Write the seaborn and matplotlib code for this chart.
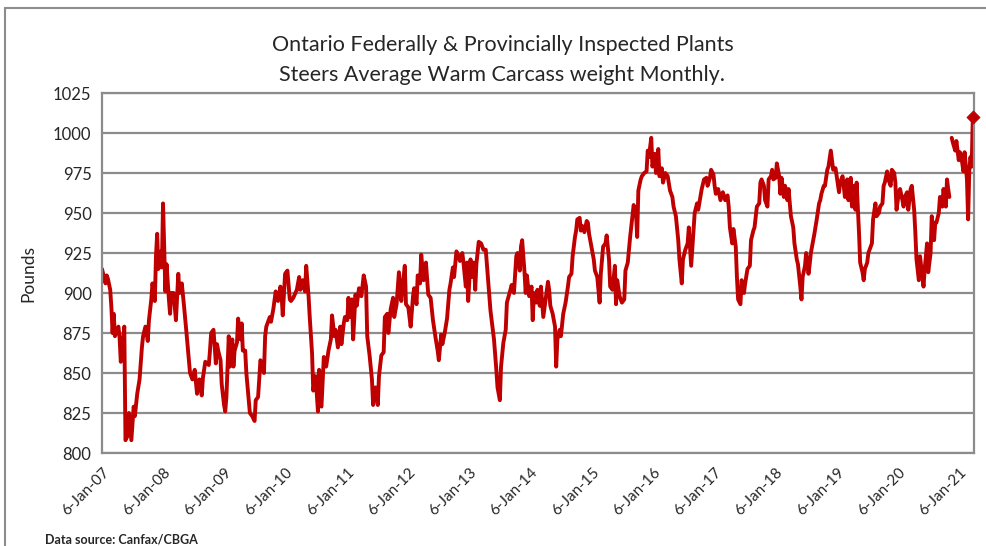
import numpy as np
import pandas as pd
import matplotlib.pyplot as plt
from matplotlib.lines import Line2D
import seaborn as sns

# weekly report, weeks counted from 6-Jan-07 (NaN = missing week)
weeks = [
    0, 3, 4, 5, 7, 8, 9, 10, 11, 14, 15, 16, 17, 19, 20, 22, 23, 25, 27, 28,
    30, 32, 34, 35, 37, 39, 40, 42, 43, 45, 46, 47, 48, 50, 51, 52, 54, 55, 57, 58,
    59, 61, 63, 65, 66, 68, 70, 72, 75, 77, 79, 81, 83, 85, 86, 88, 91, 92, 93, 95,
    97, 98, 99, 101, 102, 104, 105, 106, 108, 109, 111, 112, 113, 115, 116, 118, 119, 120, 122, 123,
    126, 128, 130, 131, 133, 135, 136, 138, 139, 140, 143, 144, 146, 148, 150, 152, 153, 154, 156, 158,
    160, 161, 163, 166, 168, 169, 171, 173, 174, 176, 177, 179, 180, 182, 184, 185, 187, 189, 191, 193,
    195, 196, 198, 199, 201, 203, 204, 206, 207, 209, 210, 211, 213, 214, 216, 217, 219, 221, 223, 225,
    226, 228, 230, 231, 233, 235, 236, 238, 240, 241, 243, 244, 246, 248, 249, 251, 253, 255, 256, 258,
    259, 261, 263, 265, 266, 268, 269, 271, 272, 274, 276, 278, 280, 282, 284, 286, 287, 289, 290, 292,
    294, 296, 297, 299, 300, 302, 304, 305, 307, 308, 310, 311, 312, 314, 315, 317, 318, 319, 321, 323,
    325, 327, 329, 331, 334, 336, 337, 339, 340, 342, 344, 345, 348, 349, 351, 353, 354, 356, 357, 358,
    360, 361, 362, 364, 366, 367, 368, 370, 371, 373, 374, 376, 378, 380, 381, 382, 384, 386, 387, 388,
    390, 391, 393, 395, 397, 398, 400, 401, 403, 404, 405, 407, 408, 409, 410, 411, 413, 414, 415, 417,
    419, 420, 422, 424, 425, 427, 429, 430, 432, 433, 435, 437, 438, 439, 441, 443, 445, 446, 448, 450,
    452, 453, 455, 456, 457, 459, 460, 462, 464, 465, 466, 468, 469, 471, 472, 474, 475, 477, 478, 480,
    482, 484, 486, 487, 489, 491, 492, 494, 495, 497, 499, 500, 502, 504, 505, 507, 508, 511, 513, 515,
    516, 518, 519, 521, 522, 523, 525, 527, 529, 531, 533, 534, 535, 537, 538, 540, 541, 542, 544, 545,
    547, 548, 550, 552, 553, 555, 556, 558, 560, 561, 562, 564, 565, 567, 568, 570, 571, 572, 574, 575,
    577, 578, 579, 581, 582, 584, 585, 587, 589, 590, 592, 593, 595, 596, 597, 599, 600, 602, 603, 604,
    606, 607, 609, 611, 612, 613, 615, 616, 618, 619, 621, 622, 623, 625, 626, 628, 629, 631, 632, 633,
    635, 636, 638, 639, 640, 642, 643, 645, 646, 648, 649, 650, 652, 653, 655, 656, 657, 659, 660, 662,
    663, 665, 666, 667, 669, 670, 672, 673, 675, 676, 677, 679, 680, 682, 683, 684, 686, 687, 689, 690,
    692, 693, 694, 696, 697, 699, 700, 701, 703, 704, 706, 707, 709, 710, 711, 713, 714, 716, 717, 719,
    720, 721, 722, 723, 724, 725, 727, 728, 730, 731, 732, 734, 735, 737, 738, 739, 740, 741, 742,
]
pounds = [
    915, 906, 911, 909, 902, 891, 875, 887, 873, 879, 872, 857, 863, 879, 808, 811, 825, 808, 829, 823,
    837, 846, 866, 873, 879, 870, 883, 896, 906, 895, 923, 937, 915, 926, 916, 956, 901, 918, 896, 887,
    900, 900, 883, 912, 900, 906, 891, 875, 850, 846, 852, 837, 846, 836, 847, 857, 855, 864, 875, 877,
    856, 868, 864, 858, 843, 830, 826, 835, 873, 854, 871, 854, 864, 869, 884, 871, 881, 864, 864, 850,
    825, 823, 820, 833, 835, 858, 856, 850, 873, 879, 885, 882, 890, 901, 895, 904, 899, 886, 912, 914,
    896, 895, 897, 902, 910, 902, 908, 901, 917, 898, 885, 862, 839, 848, 826, 852, 829, 860, 854, 864,
    871, 886, 873, 877, 866, 879, 868, 881, 885, 883, 897, 885, 896, 871, 899, 892, 903, 898, 911, 904,
    873, 861, 846, 830, 841, 830, 848, 861, 863, 885, 887, 875, 890, 897, 885, 893, 913, 895, 903, 917,
    893, 891, 879, 898, 903, 893, 911, 906, 924, 908, 919, 899, 897, 883, 873, 864, 858, 874, 868, 875,
    884, 902, 906, 916, 910, 926, 923, 920, 925, 919, 904, 919, 895, 921, 910, 919, 902, 918, 932, 931,
    927, 927, 908, 889, 871, 852, 841, 833, 854, 869, 877, 894, 902, 905, 900, 923, 925, 914, 929, 933,
    913, 900, 911, 898, 904, 883, 900, 894, 902, 892, 904, 885, 896, 907, 902, 892, 887, 879, 854, 871,
    877, 873, 887, 894, 904, 910, 912, 923, 935, 939, 946, 947, 939, 942, 941, 938, 945, 944, 937, 929,
    921, 914, 910, 894, 912, 929, 931, 936, 921, 904, 902, 917, 893, 908, 898, 894, 896, 914, 919, 935,
    948, 955, 950, 935, 964, 971, 973, 975, 976, 989, 985, 997, 979, 987, 975, 990, 973, 978, 969, 975,
    973, 964, 960, 954, 948, 933, 921, 906, 921, 927, 931, 941, 917, 939, 950, 956, 952, 965, 971, 972,
    967, 972, 977, 974, 967, 962, 965, 958, 963, 958, 961, 954, 941, 931, 940, 929, 910, 896, 893, 908,
    900, 906, 915, 917, 933, 939, 941, 954, 956, 969, 971, 967, 958, 954, 971, 973, 977, 971, 972, 981,
    973, 962, 972, 960, 967, 958, 965, 948, 941, 931, 921, 918, 904, 896, 910, 917, 925, 912, 918, 925,
    933, 937, 946, 956, 958, 962, 967, 967, 977, 979, 989, 983, 977, 978, 973, 963, 969, 973, 967, 960,
    971, 958, 972, 954, 967, 952, 969, 938, 919, 913, 908, 915, 919, 925, 929, 931, 946, 956, 948, 950,
    954, 956, 967, 969, 976, 971, 967, 977, 975, 969, 952, 963, 965, 958, 954, 960, 963, 952, 965, 967,
    952, 938, 921, 908, 923, 910, 904, 915, 931, 913, 925, 948, 933, 944, 944, 950, 960, 954, 965, 954,
    971, 965, 960, np.nan, 997, 994, 989, 995, 983, 988, 986, 976, 988, 971, 946, 977, 985, 979, 1010,
]
y_ticks = [800, 825, 850, 875, 900, 925, 950, 975, 1000, 1025]
tick_years = list(range(2007, 2022))

start = pd.Timestamp('2007-01-06')
df = pd.DataFrame({'week': weeks, 'pounds': pounds})
df['date'] = start + pd.to_timedelta(df['week'] * 7, unit='D')
# split at the missing week so the line breaks there
df['segment'] = df['pounds'].isna().cumsum()
df = df.dropna()

sns.set_style('white')
plt.rcParams['font.family'] = ['Lato', 'DejaVu Sans']

fig = plt.figure(figsize=(9.87, 5.46), dpi=100)
ax = fig.add_axes([102 / 987, 1 - 453 / 546, (974 - 102) / 987, (453 - 93) / 546])

red = '#C00000'
sns.lineplot(data=df, x='date', y='pounds', units='segment', estimator=None,
             color=red, linewidth=2.8, ax=ax, legend=False)
last = df.iloc[[-1]]
sns.scatterplot(data=last, x='date', y='pounds', marker='D', s=45, color=red,
                edgecolor=red, ax=ax, legend=False, zorder=5, clip_on=False)

ax.set_ylim(800, 1025)
ax.set_yticks(y_ticks)
ax.set_xlim(df['date'].iloc[0], df['date'].iloc[-1] + pd.Timedelta(days=7))
tick_dates = [pd.Timestamp(f'{y}-01-06') for y in tick_years]
ax.set_xticks(tick_dates)
ax.set_xticklabels([d.strftime('%-d-%b-%y') for d in tick_dates], rotation=45,
                   ha='right', rotation_mode='anchor', fontsize=11)
ax.tick_params(axis='y', labelsize=12, length=4, color='#888888', direction='out')
ax.tick_params(axis='x', length=5, color='#888888', direction='out', pad=4)
ax.yaxis.grid(True, color='#8c8c8c', linewidth=1.6)
ax.set_axisbelow(True)
for s in ax.spines.values():
    s.set_color('#8c8c8c')
    s.set_linewidth(1.6)
ax.set_xlabel('')
ax.set_ylabel('Pounds', fontsize=12.5, labelpad=12)

fig.text(0.509, 0.918, 'Ontario Federally & Provincially Inspected Plants',
         ha='center', va='center', fontsize=15.5)
fig.text(0.509, 0.862, 'Steers Average Warm Carcass weight Monthly.',
         ha='center', va='center', fontsize=15.5)
fig.text(45 / 987, 1 - 540 / 546, 'Data source: Canfax/CBGA', ha='left',
         va='center', fontsize=9, fontweight='bold')

# outer chart-area border (top and left visible)
fig.add_artist(Line2D([5 / 987, 1], [1 - 8 / 546, 1 - 8 / 546], color='#8c8c8c', lw=1.5))
fig.add_artist(Line2D([5 / 987, 5 / 987], [0, 1 - 8 / 546], color='#8c8c8c', lw=1.5))

fig.savefig('out.png', dpi=100)
